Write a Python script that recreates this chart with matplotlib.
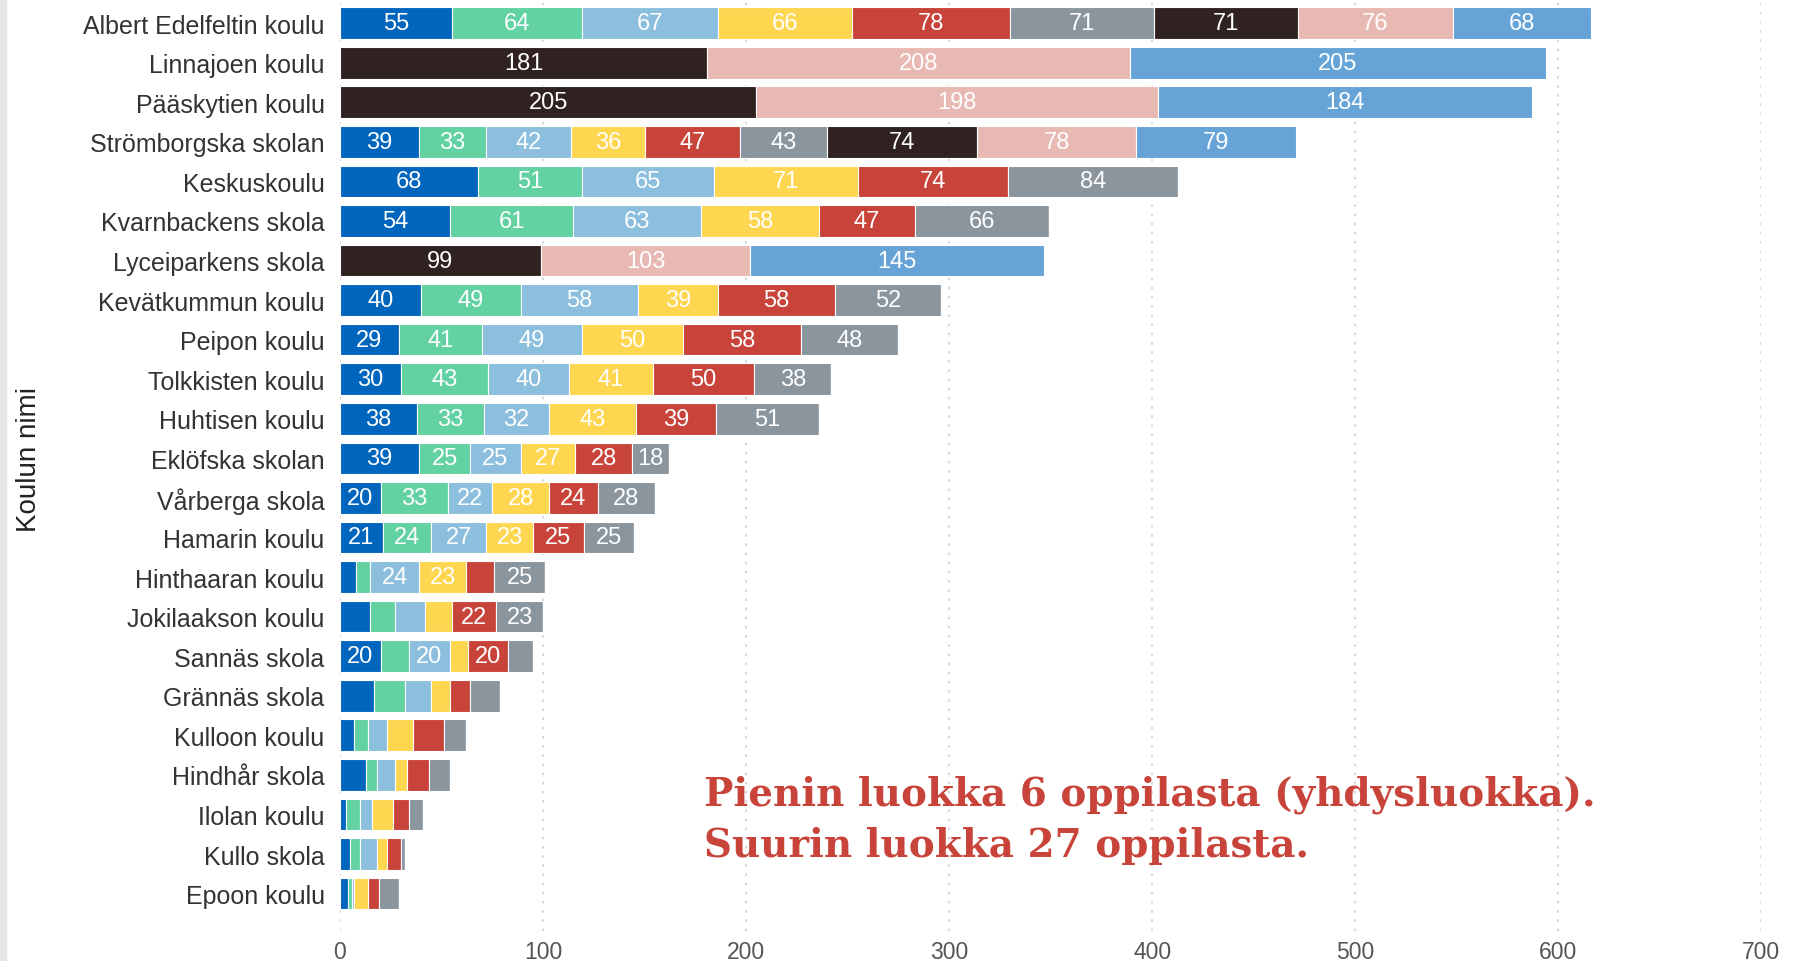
import matplotlib
matplotlib.use("Agg")
import matplotlib.pyplot as plt
from matplotlib.patches import Rectangle

schools = [
    "Albert Edelfeltin koulu", "Linnajoen koulu", "Pääskytien koulu",
    "Strömborgska skolan", "Keskuskoulu", "Kvarnbackens skola",
    "Lyceiparkens skola", "Kevätkummun koulu", "Peipon koulu",
    "Tolkkisten koulu", "Huhtisen koulu", "Eklöfska skolan",
    "Vårberga skola", "Hamarin koulu", "Hinthaaran koulu",
    "Jokilaakson koulu", "Sannäs skola", "Grännäs skola",
    "Kulloon koulu", "Hindhår skola", "Ilolan koulu", "Kullo skola",
    "Epoon koulu",
]

# pupils per grade (1..9) per school
grade1 = [55, 0, 0, 39, 68, 54, 0, 40, 29, 30, 38, 39, 20, 21, 8, 15, 20, 17, 7, 13, 3, 5, 4]
grade2 = [64, 0, 0, 33, 51, 61, 0, 49, 41, 43, 33, 25, 33, 24, 7, 12, 14, 15, 7, 5, 7, 5, 2]
grade3 = [67, 0, 0, 42, 65, 63, 0, 58, 49, 40, 32, 25, 22, 27, 24, 15, 20, 13, 9, 9, 6, 8, 1]
grade4 = [66, 0, 0, 36, 71, 58, 0, 39, 50, 41, 43, 27, 28, 23, 23, 13, 9, 9, 13, 6, 10, 5, 7]
grade5 = [78, 0, 0, 47, 74, 47, 0, 58, 58, 50, 39, 28, 24, 25, 14, 22, 20, 10, 15, 11, 8, 7, 5]
grade6 = [71, 0, 0, 43, 84, 66, 0, 52, 48, 38, 51, 18, 28, 25, 25, 23, 12, 15, 11, 10, 7, 2, 10]
grade7 = [71, 181, 205, 74, 0, 0, 99, 0, 0, 0, 0, 0, 0, 0, 0, 0, 0, 0, 0, 0, 0, 0, 0]
grade8 = [76, 208, 198, 78, 0, 0, 103, 0, 0, 0, 0, 0, 0, 0, 0, 0, 0, 0, 0, 0, 0, 0, 0]
grade9 = [68, 205, 184, 79, 0, 0, 145, 0, 0, 0, 0, 0, 0, 0, 0, 0, 0, 0, 0, 0, 0, 0, 0]

grades = [grade1, grade2, grade3, grade4, grade5, grade6, grade7, grade8, grade9]
colors = ["#0065BD", "#62D2A2", "#8BBFDD", "#FFD64F", "#C8443A",
          "#8A959E", "#302220", "#E8B9B3", "#66A4D8"]

note_lines = ["Pienin luokka 6 oppilasta (yhdysluokka).",
              "Suurin luokka 27 oppilasta."]

plt.rcParams["font.family"] = ["Liberation Sans", "DejaVu Sans"]

fig = plt.figure(figsize=(17.96, 9.62), dpi=100)
fig.patches.append(Rectangle((0, 0), 0.0035, 1, transform=fig.transFigure,
                             color="#E6E6E6", zorder=0))
ax = fig.add_axes([0.1893, 0.031, 0.7913, 0.969])

y = list(range(len(schools)))
left = [0] * len(schools)
for vals, col in zip(grades, colors):
    ax.barh(y, vals, left=left, height=0.8, color=col,
            edgecolor="white", linewidth=0.8, zorder=2)
    for i, v in enumerate(vals):
        if v >= 18:
            ax.text(left[i] + v / 2, i, str(v), ha="center", va="center",
                    color="white", fontsize=17, zorder=3)
    left = [l + v for l, v in zip(left, vals)]

ax.set_xlim(0, 700)
ax.set_ylim(len(schools) - 0.05, -0.61)
ax.set_yticks(y)
ax.set_yticklabels(schools, fontsize=18, color="#333333")
ax.set_xticks(range(0, 701, 100))
ax.tick_params(axis="x", labelsize=16.5, colors="#555555", length=0, pad=6)
ax.tick_params(axis="y", length=0, pad=11)
ax.grid(axis="x", color="#D0D0D0", linestyle=(0, (1.5, 4)), linewidth=1.2, zorder=0)
for s in ax.spines.values():
    s.set_visible(False)

fig.text(0.016, 0.522, "Koulun nimi", rotation=90, ha="center", va="center",
         fontsize=20, color="#222222")

for line, yb in zip(note_lines, [0.1632, 0.1091]):
    fig.text(0.392, yb, line, ha="left", va="baseline", fontsize=28,
             fontweight="bold", family="DejaVu Serif", color="#C8443A")

fig.savefig("out.png", dpi=100)
